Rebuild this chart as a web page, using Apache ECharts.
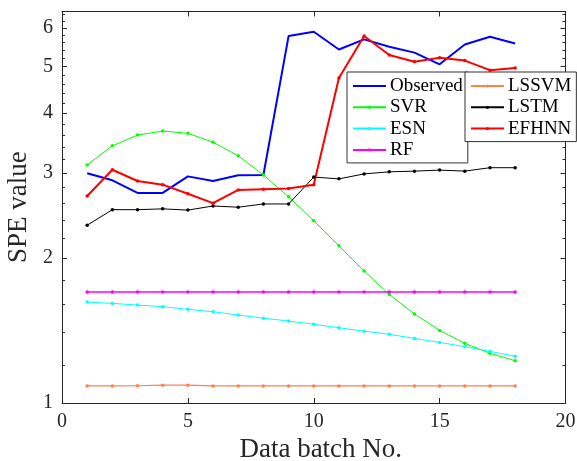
<!DOCTYPE html>
<html><head><meta charset="utf-8">
<script src="https://cdn.jsdelivr.net/npm/echarts@6/dist/echarts.min.js"></script>
<style>html,body{margin:0;padding:0;background:#fff}#c{width:577px;height:461px}</style>
</head><body><div id="c"></div>
<script>
const batches = [1,2,3,4,5,6,7,8,9,10,11,12,13,14,15,16,17,18];
const observed = [3.00,2.90,2.73,2.73,2.955,2.89,2.97,2.975,5.78,5.90,5.42,5.69,5.49,5.34,5.05,5.55,5.76,5.58];
const svr = [3.12,3.42,3.60,3.67,3.63,3.48,3.26,2.975,2.68,2.39,2.12,1.88,1.68,1.53,1.415,1.33,1.268,1.224];
const esn = [1.62,1.61,1.597,1.585,1.565,1.547,1.523,1.50,1.48,1.457,1.433,1.41,1.389,1.362,1.336,1.309,1.28,1.25];
const rf = [1.70,1.70,1.70,1.70,1.70,1.70,1.70,1.70,1.70,1.70,1.70,1.70,1.70,1.70,1.70,1.70,1.70,1.70];
const lssvm = [1.085,1.085,1.086,1.089,1.089,1.085,1.085,1.085,1.085,1.085,1.085,1.085,1.085,1.085,1.085,1.085,1.085,1.085];
const lstm = [2.34,2.52,2.52,2.53,2.515,2.565,2.55,2.59,2.59,2.945,2.92,2.99,3.02,3.03,3.045,3.03,3.08,3.08];
const efhnn = [2.69,3.05,2.89,2.84,2.72,2.60,2.77,2.78,2.79,2.84,4.73,5.78,5.28,5.11,5.21,5.14,4.91,4.96];
const yMajorTicks = [1,2,3,4,5,6];
const yMinorTicks = [1.2,1.4,1.6,1.8,2.2,2.4,2.6,2.8,3.2,3.4,3.6,3.8,4.2,4.4,4.6,4.8,5.2,5.4,5.6,5.8,6.2,6.4];
const xTicks = [0,5,10,15,20];

const FONT = '"Liberation Serif","Times New Roman",serif';
const AX = '#262626';
const chart = echarts.init(document.getElementById('c'), null, {renderer:'canvas'});
const pts = v => batches.map((b,i)=>[b, v[i]]);

function mkSeries(name, vals, color, width, sym){
  return {
    name, type:'line', data: pts(vals), xAxisIndex:0, yAxisIndex:0,
    symbol: 'circle', symbolSize: sym ? 3.5 : 0, showSymbol: !!sym,
    lineStyle:{color, width}, itemStyle:{color}, color, animation:false, z: 2
  };
}

function yAx(pos, ticks, len, showLine, showLabel){
  return {
    type:'log', logBase:10, min:1, max:6.5, position:pos,
    axisLine:{show:showLine, lineStyle:{color:AX, width:1}},
    axisTick:{show:true, inside:true, length:len, customValues:ticks, lineStyle:{color:AX, width:1}},
    axisLabel:{show:showLabel, customValues:ticks, fontSize:20, fontFamily:FONT, color:AX, margin:9},
    splitLine:{show:false}, minorTick:{show:false}
  };
}

const legendCommon = {
  orient:'vertical', backgroundColor:'#fff', borderColor:'#333', borderWidth:1,
  itemWidth:33, itemHeight:4, itemGap:1.3, padding:[4,5,3,5],
  textStyle:{fontSize:19, fontFamily:FONT, color:'#000', lineHeight:20, padding:[0,0,0,-1]}
};

const option = {
  backgroundColor:'#fff',
  animation:false,
  grid:{left:62, right:11.5, top:11.5, bottom:58, containLabel:false, outerBoundsMode:'none'},
  legend:[
    Object.assign({}, legendCommon, {left:347, top:72,
      data:[{name:'Observed', itemStyle:{opacity:0}},'SVR','ESN','RF']}),
    Object.assign({}, legendCommon, {left:465, top:72, data:['LSSVM','LSTM','EFHNN']})
  ],
  xAxis:[
    {type:'value', min:0, max:20, interval:5, position:'bottom',
     name:'Data batch No.', nameLocation:'middle', nameGap:30,
     nameTextStyle:{fontSize:27, fontFamily:FONT, color:AX, padding:[0,0,0,14]},
     axisLine:{lineStyle:{color:AX, width:1}},
     axisTick:{inside:true, length:5, lineStyle:{color:AX}},
     axisLabel:{fontSize:20, fontFamily:FONT, color:AX, margin:9},
     splitLine:{show:false}},
    {type:'value', min:0, max:20, interval:5, position:'top',
     axisLine:{lineStyle:{color:AX, width:1}},
     axisTick:{inside:true, length:5, lineStyle:{color:AX}},
     axisLabel:{show:false}, splitLine:{show:false}}
  ],
  yAxis:[
    Object.assign(yAx('left', yMajorTicks, 5, true, true), {
      name:'SPE value', nameLocation:'middle', nameGap:17, nameRotate:90,
      nameTextStyle:{fontSize:27, fontFamily:FONT, color:AX}}),
    yAx('left', yMinorTicks, 3, false, false),
    yAx('right', yMajorTicks, 5, true, false),
    yAx('right', yMinorTicks, 3, false, false)
  ],
  series:[
    mkSeries('Observed', observed, '#0000ff', 2, false),
    mkSeries('SVR', svr, '#00ff00', 1, true),
    mkSeries('ESN', esn, '#00ffff', 1, true),
    mkSeries('RF', rf, '#ff00ff', 1.5, true),
    mkSeries('LSSVM', lssvm, '#ff7f50', 1.2, true),
    mkSeries('LSTM', lstm, '#000000', 1, true),
    mkSeries('EFHNN', efhnn, '#ff0000', 2, true)
  ]
};
chart.setOption(option);
</script></body></html>
